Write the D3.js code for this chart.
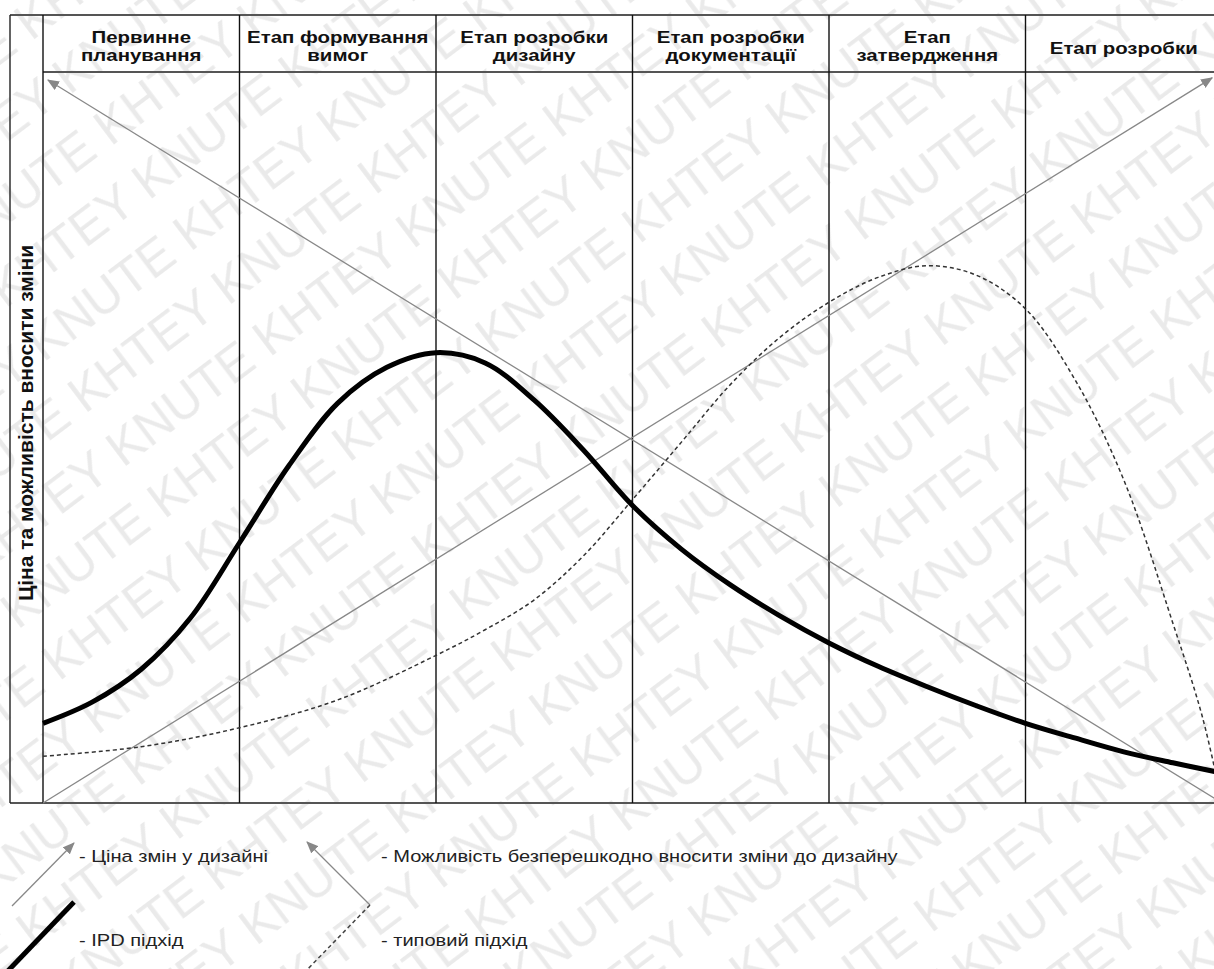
<!DOCTYPE html>
<html>
<head>
<meta charset="utf-8">
<script src="https://cdn.jsdelivr.net/npm/d3@7"></script>
<style>
  body { margin: 0; background: #fff; }
  svg { display: block; font-family: "Liberation Sans", Arial, sans-serif; }
</style>
</head>
<body>
<svg width="1214" height="969"></svg>
<script>
const stages = [
  ["Первинне", "планування"],
  ["Етап формування", "вимог"],
  ["Етап розробки", "дизайну"],
  ["Етап розробки", "документації"],
  ["Етап", "затвердження"],
  ["Етап розробки"]
];
const yLabel = "Ціна та можливість вносити зміни";

// IPD approach (thick line)
const ipdX = [0, 0.25, 0.5, 0.75, 1, 1.25, 1.5, 1.75, 2, 2.25, 2.5, 2.75, 3,
  3.25, 3.5, 3.75, 4, 4.25, 4.5, 4.75, 5, 5.25, 5.5, 5.75, 6];
const ipdY = [10.9, 13.8, 18.3, 25.3, 35.6, 46.1, 54.7, 59.6, 61.6, 60.2, 55.1, 48.3, 40.7,
  34.7, 29.8, 25.6, 21.9, 18.7, 15.9, 13.3, 10.9, 8.9, 7.0, 5.5, 4.1];

// typical approach (dashed)
const typX = [0, 0.5, 1, 1.5, 2, 2.25, 2.5, 2.75, 3, 3.25, 3.5, 3.75, 4,
  4.25, 4.5, 4.75, 5, 5.25, 5.5, 5.75, 5.9, 6];
const typY = [6.4, 7.7, 10.3, 14.1, 20.2, 23.7, 27.8, 33.8, 41.5, 49.4, 57.3, 63.7, 68.5,
  71.9, 73.5, 72.2, 67.6, 58.0, 44.2, 24.6, 11.8, 0];

// cost of changes (rising) and ability to change (falling)
const costLine = [[0, 0], [5.95, 99.2]];
const abilityLine = [[6, 0], [0.025, 98.9]];

const legendItems = [
  "- Ціна змін у дизайні",
  "- IPD підхід",
  "- Можливість безперешкодно вносити зміни до дизайну",
  "- типовий підхід"
];

const svg = d3.select("svg");
const width = +svg.attr("width");
const height = +svg.attr("height");

const x = d3.scaleLinear().domain([0, 6]).range([43, 1222]);
const y = d3.scaleLinear().domain([0, 100]).range([803, 72]);

const defs = svg.append("defs");

// watermark as a repeating pattern
const wmText = "KHTEY KNUTE";
const wmSize = 50;
const probe = svg.append("text").style("font-size", wmSize + "px").text(wmText);
const tw = probe.node().getComputedTextLength() + 14;
probe.remove();
const rowH = 66;
const pat = defs.append("pattern")
  .attr("id", "wm")
  .attr("patternUnits", "userSpaceOnUse")
  .attr("width", tw).attr("height", rowH * 2)
  .attr("patternTransform", "rotate(-37)");
const pg = pat.append("g").attr("fill", "#eaeaea").style("font-size", wmSize + "px");
pg.append("text").attr("x", 0).attr("y", rowH - 14).text(wmText);
pg.append("text").attr("x", -tw / 2).attr("y", rowH * 2 - 14).text(wmText);
pg.append("text").attr("x", tw / 2).attr("y", rowH * 2 - 14).text(wmText);
svg.append("rect").attr("width", width).attr("height", height).attr("fill", "url(#wm)");

defs.append("marker")
  .attr("id", "arr")
  .attr("viewBox", "0 0 12 10")
  .attr("refX", 11).attr("refY", 5)
  .attr("markerWidth", 12).attr("markerHeight", 10)
  .attr("markerUnits", "userSpaceOnUse")
  .attr("orient", "auto")
  .append("path")
  .attr("d", "M0,0 L12,5 L0,10 Z")
  .attr("fill", "#888");

// frame
const frame = svg.append("g");
frame.append("line").attr("x1", 10).attr("x2", 1222).attr("y1", 15).attr("y2", 15)
  .attr("stroke", "#555").attr("stroke-width", 2.2);
frame.append("line").attr("x1", x(0)).attr("x2", 1222).attr("y1", y(100)).attr("y2", y(100))
  .attr("stroke", "#555").attr("stroke-width", 2.2);
frame.append("line").attr("x1", 10).attr("x2", 1222).attr("y1", y(0)).attr("y2", y(0))
  .attr("stroke", "#555").attr("stroke-width", 2.2);
frame.append("line").attr("x1", 10).attr("x2", 10).attr("y1", 15).attr("y2", y(0))
  .attr("stroke", "#222").attr("stroke-width", 1.4);
frame.selectAll("line.div")
  .data(d3.range(0, 6))
  .join("line")
  .attr("class", "div")
  .attr("x1", d => x(d)).attr("x2", d => x(d))
  .attr("y1", 15).attr("y2", y(0))
  .attr("stroke", "#111").attr("stroke-width", 1.4);

// header texts (slightly wide lettering, as in the source)
stages.forEach((lines, i) => {
  const cx = x(i + 0.5);
  const y0 = lines.length === 1 ? 54 : 43;
  lines.forEach((t, j) => {
    svg.append("text")
      .attr("transform", `translate(${cx},${y0 + j * 18}) scale(1.2,1)`)
      .attr("text-anchor", "middle")
      .style("font-size", "17px").style("font-weight", "bold")
      .attr("fill", "#111")
      .text(t);
  });
});

svg.append("text")
  .attr("transform", `translate(33,${423}) rotate(-90)`)
  .attr("text-anchor", "middle")
  .style("font-size", "21px").style("font-weight", "bold")
  .attr("fill", "#111")
  .text(yLabel);

// straight arrows
const straight = d3.line().x(d => x(d[0])).y(d => y(d[1]));
[costLine, abilityLine].forEach(l => {
  svg.append("path")
    .attr("d", straight(l))
    .attr("fill", "none")
    .attr("stroke", "#888").attr("stroke-width", 1.3)
    .attr("marker-end", "url(#arr)");
});

// curves
const curve = d3.line()
  .x(d => x(d[0])).y(d => y(d[1]))
  .curve(d3.curveCatmullRom.alpha(0.5));

svg.append("path")
  .attr("d", curve(typX.map((v, i) => [v, typY[i]])))
  .attr("fill", "none")
  .attr("stroke", "#333").attr("stroke-width", 1.5)
  .attr("stroke-dasharray", "4,3");

svg.append("path")
  .attr("d", curve(ipdX.map((v, i) => [v, ipdY[i]])))
  .attr("fill", "none")
  .attr("stroke", "#000").attr("stroke-width", 5);

// legend
const lg = svg.append("g");
lg.append("line").attr("x1", 12).attr("y1", 906).attr("x2", 74).attr("y2", 843)
  .attr("stroke", "#888").attr("stroke-width", 1.3).attr("marker-end", "url(#arr)");
lg.append("line").attr("x1", 4).attr("y1", 975).attr("x2", 74).attr("y2", 902)
  .attr("stroke", "#000").attr("stroke-width", 5);
lg.append("line").attr("x1", 370).attr("y1", 905).attr("x2", 307).attr("y2", 842)
  .attr("stroke", "#888").attr("stroke-width", 1.3).attr("marker-end", "url(#arr)");
lg.append("line").attr("x1", 370).attr("y1", 905).attr("x2", 302).attr("y2", 975)
  .attr("stroke", "#444").attr("stroke-width", 1.5).attr("stroke-dasharray", "4,3");

const legendPos = [[79, 862], [79, 946], [381, 862], [381, 946]];
legendItems.forEach((t, i) => {
  lg.append("text")
    .attr("transform", `translate(${legendPos[i][0]},${legendPos[i][1]}) scale(1.18,1)`)
    .style("font-size", "17px")
    .attr("fill", "#222")
    .text(t);
});
</script>
</body>
</html>
